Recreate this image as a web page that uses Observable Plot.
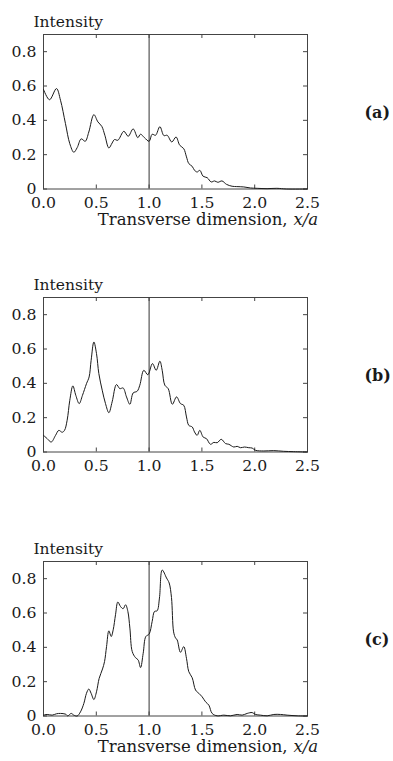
<!DOCTYPE html>
<html><head><meta charset="utf-8">
<script src="https://cdn.jsdelivr.net/npm/d3@7"></script>
<script src="https://cdn.jsdelivr.net/npm/@observablehq/plot@0.6"></script>
<style>
html,body{margin:0;padding:0;background:#fff;}
#root{position:relative;width:393px;height:761px;overflow:hidden;}
</style></head><body><div id="root"></div>
<script>
// Axis ticks and labels
const xTicks = [0, 0.5, 1, 1.5, 2, 2.5];
const yTicks = [0, 0.2, 0.4, 0.6, 0.8];
const markerX = [1.0];
const yLabel = "Intensity";
const titleMain = "Transverse dimension,";
const titleVar = "x/a";
const tags = ["(a)", "(b)", "(c)"];

// Panel (a)
const aX = [0, 0.057, 0.123, 0.161, 0.208, 0.249, 0.287, 0.319, 0.357, 0.395,
  0.429, 0.477, 0.515, 0.552, 0.581, 0.619, 0.650, 0.672, 0.704, 0.761,
  0.802, 0.849, 0.893, 0.919, 0.956, 1.0, 1.029, 1.061, 1.102, 1.14,
  1.171, 1.215, 1.255, 1.29, 1.328, 1.354, 1.376, 1.408, 1.43, 1.455,
  1.48, 1.512, 1.55, 1.588, 1.62, 1.651, 1.69, 1.733, 1.786, 1.83,
  1.897, 1.96, 2.023, 2.117, 2.21, 2.3, 2.5];
const aY = [0.58, 0.52, 0.585, 0.517, 0.381, 0.264, 0.214, 0.241, 0.292, 0.278,
  0.332, 0.433, 0.391, 0.365, 0.313, 0.239, 0.268, 0.288, 0.284, 0.336,
  0.307, 0.350, 0.299, 0.319, 0.299, 0.278, 0.319, 0.313, 0.363, 0.311,
  0.313, 0.274, 0.303, 0.255, 0.235, 0.187, 0.148, 0.132, 0.109, 0.099,
  0.109, 0.074, 0.066, 0.041, 0.047, 0.039, 0.047, 0.027, 0.016, 0.014,
  0.012, 0.006, 0.004, 0.002, 0.004, 0, 0];

// Panel (b)
const bX = [0, 0.035, 0.073, 0.114, 0.145, 0.177, 0.199, 0.224, 0.249, 0.278,
  0.306, 0.338, 0.369, 0.407, 0.432, 0.451, 0.477, 0.502, 0.524, 0.556,
  0.587, 0.619, 0.650, 0.691, 0.723, 0.754, 0.786, 0.818, 0.849, 0.887,
  0.912, 0.95, 0.988, 1.032, 1.067, 1.102, 1.124, 1.149, 1.181, 1.22,
  1.26, 1.297, 1.328, 1.354, 1.376, 1.408, 1.43, 1.455, 1.48, 1.512,
  1.543, 1.581, 1.613, 1.645, 1.683, 1.724, 1.755, 1.802, 1.834, 1.866,
  1.903, 1.944, 1.976, 2.007, 2.086, 2.18, 2.275, 2.37, 2.5];
const bY = [0.097, 0.078, 0.058, 0.097, 0.126, 0.115, 0.126, 0.185, 0.301, 0.385,
  0.330, 0.282, 0.330, 0.398, 0.437, 0.534, 0.641, 0.573, 0.457, 0.360,
  0.282, 0.229, 0.292, 0.393, 0.369, 0.373, 0.321, 0.278, 0.344, 0.354,
  0.389, 0.476, 0.450, 0.515, 0.476, 0.529, 0.476, 0.389, 0.369, 0.278,
  0.321, 0.282, 0.272, 0.204, 0.155, 0.146, 0.117, 0.097, 0.126, 0.087,
  0.078, 0.045, 0.056, 0.054, 0.074, 0.049, 0.045, 0.029, 0.033, 0.025,
  0.029, 0.025, 0.023, 0.010, 0.006, 0.008, 0.004, 0.002, 0];

// Panel (c)
const cX = [0, 0.035, 0.082, 0.123, 0.161, 0.208, 0.23, 0.262, 0.287, 0.319,
  0.35, 0.382, 0.407, 0.429, 0.451, 0.477, 0.502, 0.527, 0.559, 0.578,
  0.597, 0.619, 0.641, 0.66, 0.682, 0.704, 0.729, 0.754, 0.777, 0.799,
  0.818, 0.84, 0.871, 0.896, 0.919, 0.944, 0.969, 1.0, 1.029, 1.051,
  1.076, 1.098, 1.124, 1.165, 1.19, 1.212, 1.232, 1.25, 1.266, 1.297, 1.328,
  1.354, 1.376, 1.408, 1.44, 1.471, 1.502, 1.534, 1.566, 1.597, 1.645,
  1.708, 1.771, 1.834, 1.881, 1.929, 1.976, 2.007, 2.055, 2.118, 2.181,
  2.244, 2.307, 2.402, 2.5];
const cY = [0.005, 0.009, 0.005, 0.013, 0.015, 0.011, 0.001, 0.015, 0.005, 0,
  0.024, 0.073, 0.132, 0.157, 0.132, 0.096, 0.141, 0.219, 0.274, 0.317,
  0.404, 0.496, 0.463, 0.502, 0.59, 0.664, 0.638, 0.625, 0.648, 0.609,
  0.512, 0.376, 0.34, 0.327, 0.282, 0.365, 0.463, 0.477, 0.551, 0.609,
  0.613, 0.687, 0.85, 0.804, 0.775, 0.69, 0.49, 0.455, 0.443, 0.371, 0.404,
  0.336, 0.258, 0.223, 0.151, 0.132, 0.112, 0.083, 0.063, 0.015, 0.001,
  0.005, 0.001, 0.009, 0.005, 0.015, 0.02, 0.009, 0.005, 0.001, 0.009,
  0.009, 0.005, 0.001, 0];

const panelTops = [0, 263.3, 526.7];
const ink = "#1a1a1a";
const serif = "'DejaVu Serif', 'Liberation Serif', serif";

function makePanel(xs, ys, tag, withTitle, top) {
  const data = xs.map((x, i) => ({x, y: ys[i]}));
  const W = 393, H = 240, mt = 34, mb = 51.5, ml = 43, mr = 86;
  const fh = H - mt - mb, fw = W - ml - mr;
  const marks = [
    Plot.frame({stroke: "#444", strokeWidth: 1}),
    Plot.ruleX(markerX, {stroke: "#333", strokeWidth: 1}),
    Plot.tickX(xTicks, {x: d => d, insetTop: fh - 4, stroke: "#444"}),
    Plot.tickX(xTicks, {x: d => d, insetBottom: fh - 4, stroke: "#444"}),
    Plot.tickY(yTicks, {y: d => d, insetRight: fw - 4, stroke: "#444"}),
    Plot.tickY(yTicks, {y: d => d, insetLeft: fw - 4, stroke: "#444"}),
    Plot.line(data, {x: "x", y: "y", curve: "catmull-rom", stroke: ink, strokeWidth: 1}),
    Plot.axisX({ticks: xTicks, tickSize: 0, tickPadding: 8, tickFormat: d3.format(".1f"), label: null, fill: ink, fontSize: 15.7}),
    Plot.axisY({ticks: yTicks, tickSize: 0, tickPadding: 7, tickFormat: d => d === 0 ? "0" : d.toFixed(1), label: null, fill: ink, fontSize: 15.7}),
    Plot.text([yLabel], {text: d => d, frameAnchor: "top-left", textAnchor: "start", lineAnchor: "bottom", dx: -10, dy: -7.3, fill: ink, fontSize: 15.5}),
    Plot.text([tag], {text: d => d, frameAnchor: "right", textAnchor: "start", dx: 57, dy: 1.5, fontWeight: "bold", fill: ink, fontSize: 16})
  ];
  if (withTitle) {
    marks.push(
      Plot.text([titleMain], {text: d => d, frameAnchor: "bottom", textAnchor: "end", lineAnchor: "bottom", dx: 112, dy: 36, fontSize: 16.5, fill: ink}),
      Plot.text([titleVar], {text: d => d, frameAnchor: "bottom", textAnchor: "start", lineAnchor: "bottom", dx: 118, dy: 36, fontSize: 16.5, fontStyle: "italic", fill: ink})
    );
  }
  const svg = Plot.plot({
    width: W, height: H,
    marginTop: mt, marginBottom: mb, marginLeft: ml, marginRight: mr,
    x: {domain: [0, 2.5]},
    y: {domain: [0, 0.9]},
    style: {fontFamily: serif, fontSize: "16px", background: "transparent", overflow: "visible"},
    marks
  });
  svg.style.position = "absolute";
  svg.style.left = "0px";
  svg.style.top = top + "px";
  document.getElementById("root").appendChild(svg);
}

makePanel(aX, aY, tags[0], true, panelTops[0]);
makePanel(bX, bY, tags[1], false, panelTops[1]);
makePanel(cX, cY, tags[2], true, panelTops[2]);
</script>
</body></html>
